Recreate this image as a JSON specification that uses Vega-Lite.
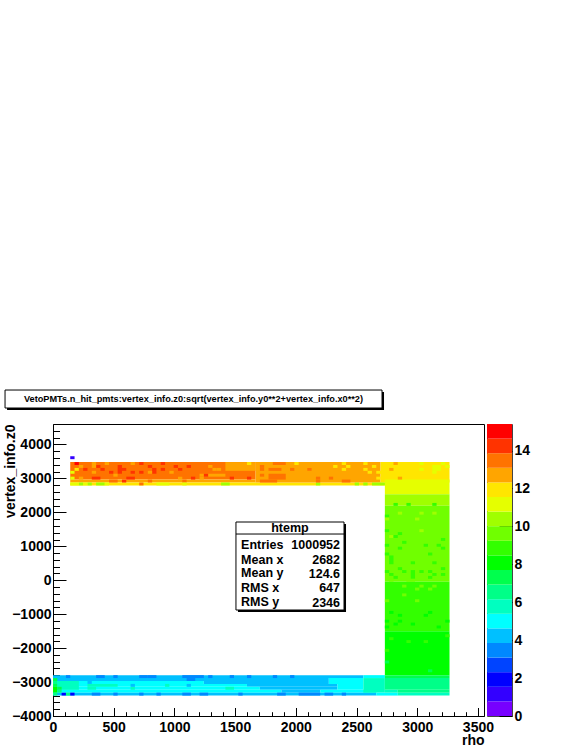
{"$schema":"https://vega.github.io/schema/vega-lite/v6.json","background":"white","padding":{"left":2,"top":389,"right":5,"bottom":5},"bounds":"flush","spacing":3,"config":{"view":{"stroke":"black","strokeWidth":1},"axis":{"labelFont":"Liberation Sans","labelFontWeight":"bold","labelFontSize":14,"labelColor":"black","titleFont":"Liberation Sans","titleFontWeight":"bold","titleFontSize":14,"titleColor":"black","tickColor":"black","domainColor":"black","grid":false,"zindex":1,"labelFlush":false,"labelBound":false,"labelOverlap":false}},
"datasets":{"cells":[
{"x":142,"x2":1668.5,"y":2966,"y2":3482,"v":13.5},{"x":142,"x2":1668.5,"y":2880,"y2":2966,"v":12.7},{"x":142,"x2":2733.5,"y":2794,"y2":2880,"v":11.9},{"x":1668.5,"x2":2698,"y":2880,"y2":3482,"v":12.7},{"x":2698,"x2":3266,"y":2880,"y2":3482,"v":11.9},
{"x":1420,"x2":1668.5,"y":3224,"y2":3482,"v":12.7},{"x":1207,"x2":1420,"y":3052,"y2":3138,"v":12.7},
{"x":2733.5,"x2":3266,"y":2536,"y2":2966,"v":11.2},{"x":2733.5,"x2":3266,"y":2192,"y2":2536,"v":10.4},{"x":2733.5,"x2":3266,"y":-44,"y2":2192,"v":9.6},{"x":2733.5,"x2":3266,"y":-1506,"y2":-44,"v":8.9},{"x":2733.5,"x2":3266,"y":-2796,"y2":-1506,"v":8.1},
{"x":142,"x2":177.5,"y":3568,"y2":3654,"v":1.2},
{"x":0,"x2":2556,"y":-2882,"y2":-2796,"v":4.2},{"x":2556,"x2":2733.5,"y":-2882,"y2":-2796,"v":5},{"x":2733.5,"x2":3266,"y":-2882,"y2":-2796,"v":7.3},
{"x":0,"x2":2272,"y":-2968,"y2":-2882,"v":4.2},{"x":0,"x2":1242.5,"y":-3054,"y2":-2968,"v":5},{"x":1242.5,"x2":2272,"y":-3054,"y2":-2968,"v":4.2},{"x":0,"x2":1597.5,"y":-3140,"y2":-3054,"v":5},{"x":1597.5,"x2":2343,"y":-3140,"y2":-3054,"v":4.2},{"x":0,"x2":1704,"y":-3226,"y2":-3140,"v":5},{"x":1704,"x2":2343,"y":-3226,"y2":-3140,"v":4.2},{"x":0,"x2":1881.5,"y":-3312,"y2":-3226,"v":5},{"x":1881.5,"x2":2201,"y":-3312,"y2":-3226,"v":4.2},{"x":2201,"x2":2662.5,"y":-3312,"y2":-3226,"v":5},{"x":0,"x2":2662.5,"y":-3398,"y2":-3312,"v":4.2},
{"x":2272,"x2":2556,"y":-3054,"y2":-2882,"v":5},{"x":2343,"x2":2556,"y":-3226,"y2":-3054,"v":5},
{"x":2556,"x2":2733.5,"y":-3312,"y2":-2882,"v":5.8},{"x":2662.5,"x2":2840,"y":-3398,"y2":-3312,"v":5},
{"x":2733.5,"x2":3266,"y":-3226,"y2":-2882,"v":6.5},{"x":2733.5,"x2":2840,"y":-3312,"y2":-3226,"v":5.8},{"x":2840,"x2":3266,"y":-3312,"y2":-3226,"v":6.5},{"x":2840,"x2":3266,"y":-3398,"y2":-3312,"v":5.8},
{"x":35.5,"x2":213,"y":-3226,"y2":-2968,"v":5.8},{"x":284,"x2":532.5,"y":-3140,"y2":-3054,"v":5.8},{"x":284,"x2":355,"y":-3226,"y2":-3140,"v":5.8},{"x":0,"x2":35.5,"y":-2968,"y2":-2882,"v":7.3},{"x":0,"x2":35.5,"y":-3054,"y2":-2968,"v":6.5},{"x":0,"x2":35.5,"y":-3140,"y2":-3054,"v":7.3},{"x":0,"x2":35.5,"y":-3312,"y2":-3140,"v":8.1},{"x":35.5,"x2":71,"y":-3226,"y2":-3140,"v":7.3},{"x":35.5,"x2":71,"y":-3312,"y2":-3226,"v":6.5},{"x":0,"x2":35.5,"y":-3398,"y2":-3312,"v":6.5},
{"x":71,"x2":106.5,"y":-3398,"y2":-3312,"v":1.9},{"x":106.5,"x2":142,"y":-3398,"y2":-3312,"v":6.5},{"x":142,"x2":177.5,"y":-3398,"y2":-3312,"v":1.9},
{"x":106.5,"x2":142,"y":-2882,"y2":-2796,"v":3.5},{"x":355,"x2":426,"y":-2882,"y2":-2796,"v":3.5},{"x":497,"x2":532.5,"y":-2882,"y2":-2796,"v":3.5},{"x":710,"x2":781,"y":-2882,"y2":-2796,"v":3.5},{"x":781,"x2":852,"y":-2882,"y2":-2796,"v":3.5},{"x":1065,"x2":1242.5,"y":-2882,"y2":-2796,"v":3.5},{"x":1100.5,"x2":1171.5,"y":-2968,"y2":-2882,"v":3.5},{"x":1278,"x2":1313.5,"y":-2882,"y2":-2796,"v":3.5},{"x":1455.5,"x2":1491,"y":-2882,"y2":-2796,"v":3.5},{"x":1597.5,"x2":1633,"y":-2882,"y2":-2796,"v":3.5},{"x":1810.5,"x2":1846,"y":-2882,"y2":-2796,"v":3.5},{"x":1952.5,"x2":1988,"y":-2882,"y2":-2796,"v":3.5},
{"x":319.5,"x2":390.5,"y":-3398,"y2":-3312,"v":3.5},{"x":497,"x2":532.5,"y":-3398,"y2":-3312,"v":3.5},{"x":710,"x2":745.5,"y":-3398,"y2":-3312,"v":3.5},{"x":852,"x2":887.5,"y":-3398,"y2":-3312,"v":3.5},{"x":1065,"x2":1136,"y":-3398,"y2":-3312,"v":3.5},{"x":1207,"x2":1278,"y":-3398,"y2":-3312,"v":3.5},{"x":1526.5,"x2":1562,"y":-3398,"y2":-3312,"v":3.5},{"x":1846,"x2":1917,"y":-3398,"y2":-3312,"v":3.5},{"x":2023.5,"x2":2201,"y":-3398,"y2":-3312,"v":3.5},{"x":2236.5,"x2":2307.5,"y":-3398,"y2":-3312,"v":3.5},{"x":2378.5,"x2":2414,"y":-3398,"y2":-3312,"v":3.5},
{"x":639,"x2":674.5,"y":-3226,"y2":-3140,"v":5.8},{"x":923,"x2":958.5,"y":-3140,"y2":-3054,"v":5.8},{"x":284,"x2":319.5,"y":-3054,"y2":-2968,"v":4.2},{"x":639,"x2":674.5,"y":-3140,"y2":-3054,"v":4.2},{"x":1100.5,"x2":1136,"y":-3140,"y2":-3054,"v":4.2},{"x":1420,"x2":1491,"y":-3226,"y2":-3140,"v":5.8},
{"x":177.5,"x2":213,"y":3396,"y2":3482,"v":14.9},{"x":355,"x2":390.5,"y":3310,"y2":3396,"v":14.2},{"x":390.5,"x2":426,"y":3224,"y2":3310,"v":14.2},{"x":532.5,"x2":568,"y":3138,"y2":3396,"v":14.2},{"x":568,"x2":603.5,"y":3224,"y2":3310,"v":14.2},{"x":710,"x2":745.5,"y":3396,"y2":3482,"v":14.2},{"x":781,"x2":816.5,"y":3310,"y2":3396,"v":14.2},{"x":816.5,"x2":852,"y":3138,"y2":3310,"v":14.2},{"x":887.5,"x2":923,"y":3396,"y2":3482,"v":14.2},{"x":887.5,"x2":923,"y":3224,"y2":3310,"v":14.2},{"x":994,"x2":1029.5,"y":3310,"y2":3396,"v":14.2},{"x":1029.5,"x2":1065,"y":3224,"y2":3310,"v":14.2},{"x":1100.5,"x2":1136,"y":3310,"y2":3396,"v":14.2},{"x":248.5,"x2":284,"y":3224,"y2":3310,"v":14.2},{"x":461.5,"x2":497,"y":3138,"y2":3224,"v":14.2},{"x":639,"x2":674.5,"y":3138,"y2":3224,"v":14.2},{"x":710,"x2":745.5,"y":3138,"y2":3224,"v":14.2},{"x":319.5,"x2":390.5,"y":2966,"y2":3052,"v":14.2},{"x":603.5,"x2":674.5,"y":2966,"y2":3052,"v":14.2},{"x":568,"x2":603.5,"y":2880,"y2":2966,"v":14.2},{"x":1136,"x2":1171.5,"y":2966,"y2":3052,"v":14.2},{"x":1242.5,"x2":1278,"y":3052,"y2":3138,"v":14.2},{"x":1455.5,"x2":1491,"y":2966,"y2":3052,"v":14.2},{"x":1597.5,"x2":1633,"y":2966,"y2":3052,"v":14.2},
{"x":319.5,"x2":355,"y":3396,"y2":3482,"v":12.7},{"x":639,"x2":674.5,"y":3396,"y2":3482,"v":12.7},{"x":426,"x2":461.5,"y":3396,"y2":3482,"v":12.7},{"x":213,"x2":248.5,"y":3310,"y2":3396,"v":12.7},{"x":319.5,"x2":355,"y":3310,"y2":3396,"v":12.7},{"x":213,"x2":248.5,"y":2966,"y2":3052,"v":12.7},{"x":1207,"x2":1242.5,"y":2966,"y2":3052,"v":12.7},{"x":1349,"x2":1384.5,"y":3224,"y2":3310,"v":12.7},{"x":497,"x2":532.5,"y":3052,"y2":3138,"v":12.7},{"x":781,"x2":816.5,"y":3138,"y2":3224,"v":12.7},{"x":958.5,"x2":994,"y":3138,"y2":3224,"v":12.7},{"x":1278,"x2":1313.5,"y":3310,"y2":3396,"v":12.7},{"x":1313.5,"x2":1349,"y":3224,"y2":3310,"v":12.7},{"x":319.5,"x2":355,"y":3138,"y2":3224,"v":12.7},{"x":1029.5,"x2":1065,"y":2966,"y2":3052,"v":12.7},
{"x":177.5,"x2":213,"y":3224,"y2":3310,"v":11.9},{"x":142,"x2":177.5,"y":3138,"y2":3224,"v":11.2},{"x":142,"x2":177.5,"y":2966,"y2":3052,"v":11.2},{"x":1597.5,"x2":1633,"y":3396,"y2":3482,"v":11.9},
{"x":461.5,"x2":532.5,"y":2880,"y2":2966,"v":13.5},{"x":781,"x2":816.5,"y":2880,"y2":2966,"v":13.5},{"x":1065,"x2":1100.5,"y":2880,"y2":2966,"v":13.5},
{"x":213,"x2":248.5,"y":2794,"y2":2880,"v":10.4},{"x":284,"x2":319.5,"y":2794,"y2":2880,"v":10.4},{"x":355,"x2":426,"y":2794,"y2":2880,"v":10.4},{"x":142,"x2":213,"y":2794,"y2":2880,"v":11.2},{"x":248.5,"x2":284,"y":2794,"y2":2880,"v":11.2},{"x":426,"x2":461.5,"y":2794,"y2":2880,"v":11.2},{"x":710,"x2":745.5,"y":2794,"y2":2880,"v":13.5},{"x":852,"x2":958.5,"y":2794,"y2":2880,"v":11.2},{"x":1065,"x2":1100.5,"y":2794,"y2":2880,"v":11.2},{"x":1384.5,"x2":1455.5,"y":2794,"y2":2880,"v":10.4},{"x":2165.5,"x2":2201,"y":2794,"y2":2880,"v":10.4},{"x":2485,"x2":2520.5,"y":2794,"y2":2880,"v":10.4},{"x":2556,"x2":2591.5,"y":2794,"y2":2880,"v":10.4},{"x":2627,"x2":2733.5,"y":2794,"y2":2880,"v":10.4},
{"x":1810.5,"x2":1917,"y":3396,"y2":3482,"v":13.5},{"x":1704,"x2":1739.5,"y":3310,"y2":3396,"v":13.5},{"x":1704,"x2":1739.5,"y":3224,"y2":3310,"v":13.5},{"x":1775,"x2":1881.5,"y":3224,"y2":3310,"v":13.5},{"x":1952.5,"x2":1988,"y":3224,"y2":3310,"v":13.5},{"x":2094.5,"x2":2130,"y":3224,"y2":3310,"v":13.5},{"x":1704,"x2":1739.5,"y":3052,"y2":3138,"v":13.5},{"x":1775,"x2":1917,"y":2966,"y2":3138,"v":13.5},{"x":2165.5,"x2":2201,"y":2966,"y2":3052,"v":13.5},{"x":2272,"x2":2307.5,"y":2966,"y2":3052,"v":13.5},{"x":2378.5,"x2":2449.5,"y":2880,"y2":2966,"v":13.5},{"x":2165.5,"x2":2201,"y":2880,"y2":2966,"v":13.5},{"x":1704,"x2":1846,"y":2880,"y2":2966,"v":13.5},
{"x":1988,"x2":2023.5,"y":3396,"y2":3482,"v":11.9},{"x":2307.5,"x2":2343,"y":3310,"y2":3396,"v":11.9},{"x":2378.5,"x2":2414,"y":3396,"y2":3482,"v":11.9},{"x":2378.5,"x2":2414,"y":3224,"y2":3310,"v":11.9},{"x":2414,"x2":2449.5,"y":3310,"y2":3396,"v":11.9},{"x":2556,"x2":2591.5,"y":3396,"y2":3482,"v":11.9},{"x":2627,"x2":2662.5,"y":3310,"y2":3396,"v":11.9},{"x":2662.5,"x2":2733.5,"y":3138,"y2":3224,"v":11.9},{"x":2591.5,"x2":2627,"y":3138,"y2":3224,"v":11.9},{"x":2556,"x2":2591.5,"y":3224,"y2":3310,"v":11.9},{"x":2662.5,"x2":2698,"y":2966,"y2":3052,"v":11.9},{"x":2804.5,"x2":2840,"y":3396,"y2":3482,"v":12.7},{"x":2769,"x2":2804.5,"y":3224,"y2":3310,"v":12.7},{"x":2840,"x2":2875.5,"y":2966,"y2":3052,"v":12.7},
{"x":3017.5,"x2":3053,"y":3396,"y2":3482,"v":11.2},{"x":3124,"x2":3195,"y":3224,"y2":3396,"v":11.2},{"x":3195,"x2":3230.5,"y":3396,"y2":3482,"v":11.2},{"x":3230.5,"x2":3266,"y":3310,"y2":3396,"v":11.2},{"x":3017.5,"x2":3053,"y":3224,"y2":3310,"v":11.2},{"x":3124,"x2":3159.5,"y":3138,"y2":3224,"v":11.2},
{"x":2733.5,"x2":2769,"y":1848,"y2":1934,"v":8.9},{"x":2733.5,"x2":2769,"y":1418,"y2":1504,"v":8.9},{"x":2769,"x2":2804.5,"y":1246,"y2":1332,"v":10.4},{"x":2804.5,"x2":2840,"y":1246,"y2":1332,"v":8.9},{"x":2840,"x2":2875.5,"y":1332,"y2":1418,"v":8.9},{"x":2875.5,"x2":2911,"y":1074,"y2":1160,"v":8.9},{"x":3017.5,"x2":3053,"y":1418,"y2":1504,"v":10.4},{"x":2982,"x2":3017.5,"y":1762,"y2":1848,"v":10.4},{"x":2733.5,"x2":2769,"y":1762,"y2":1848,"v":10.4},{"x":2840,"x2":2875.5,"y":1934,"y2":2020,"v":10.4},{"x":3017.5,"x2":3053,"y":1934,"y2":2020,"v":10.4},{"x":3124,"x2":3159.5,"y":1934,"y2":2020,"v":10.4},{"x":3124,"x2":3159.5,"y":2192,"y2":2278,"v":8.9},{"x":2911,"x2":2946.5,"y":2192,"y2":2278,"v":8.9},{"x":2804.5,"x2":2840,"y":2192,"y2":2278,"v":8.9},{"x":3195,"x2":3230.5,"y":1160,"y2":1246,"v":8.9},{"x":2733.5,"x2":2769,"y":988,"y2":1074,"v":8.9},{"x":2840,"x2":2875.5,"y":902,"y2":988,"v":8.9},{"x":3053,"x2":3088.5,"y":988,"y2":1074,"v":8.9},{"x":3159.5,"x2":3195,"y":988,"y2":1074,"v":8.9},{"x":3195,"x2":3230.5,"y":902,"y2":988,"v":8.9},{"x":3088.5,"x2":3124,"y":730,"y2":816,"v":8.9},{"x":2733.5,"x2":2769,"y":730,"y2":816,"v":8.9},{"x":2769,"x2":2804.5,"y":472,"y2":730,"v":8.9},{"x":2946.5,"x2":2982,"y":472,"y2":558,"v":8.9},{"x":3124,"x2":3159.5,"y":472,"y2":558,"v":8.9},{"x":3195,"x2":3230.5,"y":300,"y2":386,"v":8.9},{"x":2840,"x2":2875.5,"y":300,"y2":386,"v":8.9},{"x":2733.5,"x2":2769,"y":214,"y2":300,"v":8.9},{"x":2875.5,"x2":2911,"y":214,"y2":300,"v":8.9},{"x":3017.5,"x2":3053,"y":214,"y2":300,"v":8.9},{"x":3088.5,"x2":3124,"y":214,"y2":300,"v":8.9},{"x":2946.5,"x2":2982,"y":42,"y2":300,"v":8.9},{"x":2769,"x2":2804.5,"y":128,"y2":214,"v":8.9},{"x":3124,"x2":3159.5,"y":128,"y2":214,"v":8.9},{"x":3195,"x2":3230.5,"y":128,"y2":214,"v":8.9},{"x":2804.5,"x2":2840,"y":42,"y2":128,"v":8.9},{"x":3088.5,"x2":3124,"y":42,"y2":128,"v":8.9},
{"x":2769,"x2":2804.5,"y":-44,"y2":42,"v":9.6},{"x":2911,"x2":2982,"y":-44,"y2":42,"v":9.6},{"x":3017.5,"x2":3053,"y":-216,"y2":-130,"v":9.6},{"x":3124,"x2":3159.5,"y":-216,"y2":-130,"v":9.6},{"x":2875.5,"x2":2911,"y":-216,"y2":-130,"v":9.6},{"x":2982,"x2":3017.5,"y":-302,"y2":-216,"v":9.6},{"x":3088.5,"x2":3124,"y":-302,"y2":-216,"v":9.6},{"x":2875.5,"x2":2911,"y":-474,"y2":-388,"v":9.6},{"x":2733.5,"x2":2769,"y":-646,"y2":-560,"v":9.6},{"x":2982,"x2":3017.5,"y":-646,"y2":-560,"v":9.6},
{"x":2769,"x2":2804.5,"y":-990,"y2":-904,"v":8.1},{"x":2840,"x2":2875.5,"y":-1076,"y2":-990,"v":8.1},{"x":3053,"x2":3088.5,"y":-1076,"y2":-990,"v":8.1},{"x":3088.5,"x2":3124,"y":-990,"y2":-904,"v":8.1},{"x":2733.5,"x2":2769,"y":-1248,"y2":-1162,"v":8.1},{"x":2840,"x2":2875.5,"y":-1248,"y2":-1162,"v":8.1},{"x":2946.5,"x2":2982,"y":-1334,"y2":-1248,"v":8.1},{"x":3230.5,"x2":3266,"y":-1248,"y2":-1162,"v":8.1},{"x":2733.5,"x2":2769,"y":-1420,"y2":-1334,"v":8.1},{"x":2804.5,"x2":2840,"y":-1334,"y2":-1248,"v":8.1},{"x":3159.5,"x2":3195,"y":-1420,"y2":-1334,"v":8.1},
{"x":3230.5,"x2":3266,"y":-1678,"y2":-1592,"v":8.9},{"x":2769,"x2":2804.5,"y":-1764,"y2":-1678,"v":8.9},{"x":2911,"x2":2946.5,"y":-1850,"y2":-1764,"v":8.9},{"x":3053,"x2":3088.5,"y":-1850,"y2":-1764,"v":8.9},{"x":2733.5,"x2":2769,"y":-2108,"y2":-2022,"v":8.9},{"x":2733.5,"x2":2769,"y":-2452,"y2":-2366,"v":7.3},{"x":3088.5,"x2":3124,"y":-2710,"y2":-2624,"v":7.3}
],
"boxes":[{"x":-395,"x2":2710,"y":5075,"y2":5605},{"x":1507,"x2":2397,"y":-877,"y2":1716}],
"ticks":[{"x":0,"y":0}]},
"hconcat":[
{"width":431,"height":292,"layer":[
{"data":{"name":"cells"},"mark":{"type":"rect","stroke":null},"encoding":{
"x":{"field":"x","type":"quantitative","scale":{"domain":[0,3550],"nice":false,"zero":false},"axis":{"values":[0,500,1000,1500,2000,2500,3000,3500],"tickSize":-8.5,"labelPadding":12.5,"title":"rho","titleAnchor":"end","titlePadding":-1,"format":"d"}},
"x2":{"field":"x2"},
"y":{"field":"y","type":"quantitative","scale":{"domain":[-4000,4604],"nice":false,"zero":false},"axis":{"values":[-4000,-3000,-2000,-1000,0,1000,2000,3000,4000],"tickSize":-13,"labelPadding":15,"title":"vertex_info.z0","titleAnchor":"end","titleX":-36,"format":"d"}},
"y2":{"field":"y2"},
"color":{"field":"v","type":"quantitative","legend":null,"scale":{"type":"quantize","domain":[0,15.4],"range":["#7700ff","#3300ff","#0000ff","#0044ff","#0088ff","#00c0ff","#00ffff","#00ffc0","#00ff88","#00ff4d","#00ff00","#33ff00","#70ff00","#a0ff00","#e5ff00","#ffe600","#ffa500","#ff7300","#ff3300","#ff0000"]}}}},
{"data":{"name":"ticks"},"mark":{"type":"point","opacity":0},"encoding":{
"x":{"field":"x","type":"quantitative","axis":{"orient":"bottom","values":[100,200,300,400,600,700,800,900,1100,1200,1300,1400,1600,1700,1800,1900,2100,2200,2300,2400,2600,2700,2800,2900,3100,3200,3300,3400],"tickSize":-4.3,"labels":false,"domain":false,"title":null}},
"y":{"field":"y","type":"quantitative","axis":{"orient":"left","values":[-3800,-3600,-3400,-3200,-2800,-2600,-2400,-2200,-1800,-1600,-1400,-1200,-800,-600,-400,-200,200,400,600,800,1200,1400,1600,1800,2200,2400,2600,2800,3200,3400,3600,3800,4200,4400],"tickSize":-6.5,"labels":false,"domain":false,"title":null}}}},
{"data":{"name":"boxes"},"mark":{"type":"rect","color":"black","xOffset":2,"x2Offset":2,"yOffset":2,"y2Offset":2},"encoding":{"x":{"field":"x","type":"quantitative","axis":null},"x2":{"field":"x2"},"y":{"field":"y","type":"quantitative","axis":null},"y2":{"field":"y2"}}},
{"data":{"name":"boxes"},"mark":{"type":"rect","fill":"white","stroke":"black","strokeWidth":1},"encoding":{"x":{"field":"x","type":"quantitative","axis":null},"x2":{"field":"x2"},"y":{"field":"y","type":"quantitative","axis":null},"y2":{"field":"y2"}}},
{"data":{"values":[{"x":1507,"x2":2397,"y":1362}]},"mark":{"type":"rule","color":"black"},"encoding":{"x":{"field":"x","type":"quantitative","axis":null},"x2":{"field":"x2"},"y":{"field":"y","type":"quantitative","axis":null}}},
{"data":{"values":[{"x":1157,"y":5340,"t":"VetoPMTs.n_hit_pmts:vertex_info.z0:sqrt(vertex_info.y0**2+vertex_info.x0**2)"}]},"mark":{"type":"text","font":"Liberation Sans","fontWeight":"bold","fontSize":9.2,"color":"black","align":"center","baseline":"middle"},"encoding":{"x":{"field":"x","type":"quantitative","axis":null},"y":{"field":"y","type":"quantitative","axis":null},"text":{"field":"t"}}},
{"data":{"values":[{"x":1952,"y":1530,"t":"htemp"}]},"mark":{"type":"text","font":"Liberation Sans","fontWeight":"bold","fontSize":12.5,"color":"black","align":"center","baseline":"middle"},"encoding":{"x":{"field":"x","type":"quantitative","axis":null},"y":{"field":"y","type":"quantitative","axis":null},"text":{"field":"t"}}},
{"data":{"values":[{"x":1549,"y":1038,"t":"Entries"},{"x":1549,"y":605,"t":"Mean x"},{"x":1549,"y":213,"t":"Mean y"},{"x":1549,"y":-220,"t":"RMS x"},{"x":1549,"y":-632,"t":"RMS y"}]},"mark":{"type":"text","font":"Liberation Sans","fontWeight":"bold","fontSize":12.5,"color":"black","align":"left","baseline":"middle"},"encoding":{"x":{"field":"x","type":"quantitative","axis":null},"y":{"field":"y","type":"quantitative","axis":null},"text":{"field":"t"}}},
{"data":{"values":[{"x":2364,"y":1038,"t":"1000952"},{"x":2364,"y":605,"t":"2682"},{"x":2364,"y":175,"t":"124.6"},{"x":2364,"y":-220,"t":"647"},{"x":2364,"y":-660,"t":"2346"}]},"mark":{"type":"text","font":"Liberation Sans","fontWeight":"bold","fontSize":12.5,"color":"black","align":"right","baseline":"middle"},"encoding":{"x":{"field":"x","type":"quantitative","axis":null},"y":{"field":"y","type":"quantitative","axis":null},"text":{"field":"t"}}}
],"resolve":{"axis":{"x":"independent","y":"independent"},"scale":{"x":"shared","y":"shared"}}},
{"width":25,"height":292,"view":{"stroke":"#444"},"data":{"values":[{"y":0,"y2":0.77,"v":0.385},{"y":0.77,"y2":1.54,"v":1.155},{"y":1.54,"y2":2.31,"v":1.925},{"y":2.31,"y2":3.08,"v":2.695},{"y":3.08,"y2":3.85,"v":3.465},{"y":3.85,"y2":4.62,"v":4.235},{"y":4.62,"y2":5.39,"v":5.005},{"y":5.39,"y2":6.16,"v":5.775},{"y":6.16,"y2":6.93,"v":6.545},{"y":6.93,"y2":7.7,"v":7.315},{"y":7.7,"y2":8.47,"v":8.085},{"y":8.47,"y2":9.24,"v":8.855},{"y":9.24,"y2":10.01,"v":9.625},{"y":10.01,"y2":10.78,"v":10.395},{"y":10.78,"y2":11.55,"v":11.165},{"y":11.55,"y2":12.32,"v":11.935},{"y":12.32,"y2":13.09,"v":12.705},{"y":13.09,"y2":13.86,"v":13.475},{"y":13.86,"y2":14.63,"v":14.245},{"y":14.63,"y2":15.4,"v":15.015}]},
"mark":{"type":"rect"},"encoding":{
"y":{"field":"y","type":"quantitative","scale":{"domain":[0,15.4],"nice":false,"zero":false},"axis":{"orient":"right","values":[0,2,4,6,8,10,12,14],"tickSize":-13,"labelPadding":15,"title":null,"domain":false,"format":"d"}},
"y2":{"field":"y2"},
"color":{"field":"v","type":"quantitative","legend":null,"scale":{"type":"quantize","domain":[0,15.4],"range":["#7700ff","#3300ff","#0000ff","#0044ff","#0088ff","#00c0ff","#00ffff","#00ffc0","#00ff88","#00ff4d","#00ff00","#33ff00","#70ff00","#a0ff00","#e5ff00","#ffe600","#ffa500","#ff7300","#ff3300","#ff0000"]}}}}
]}
